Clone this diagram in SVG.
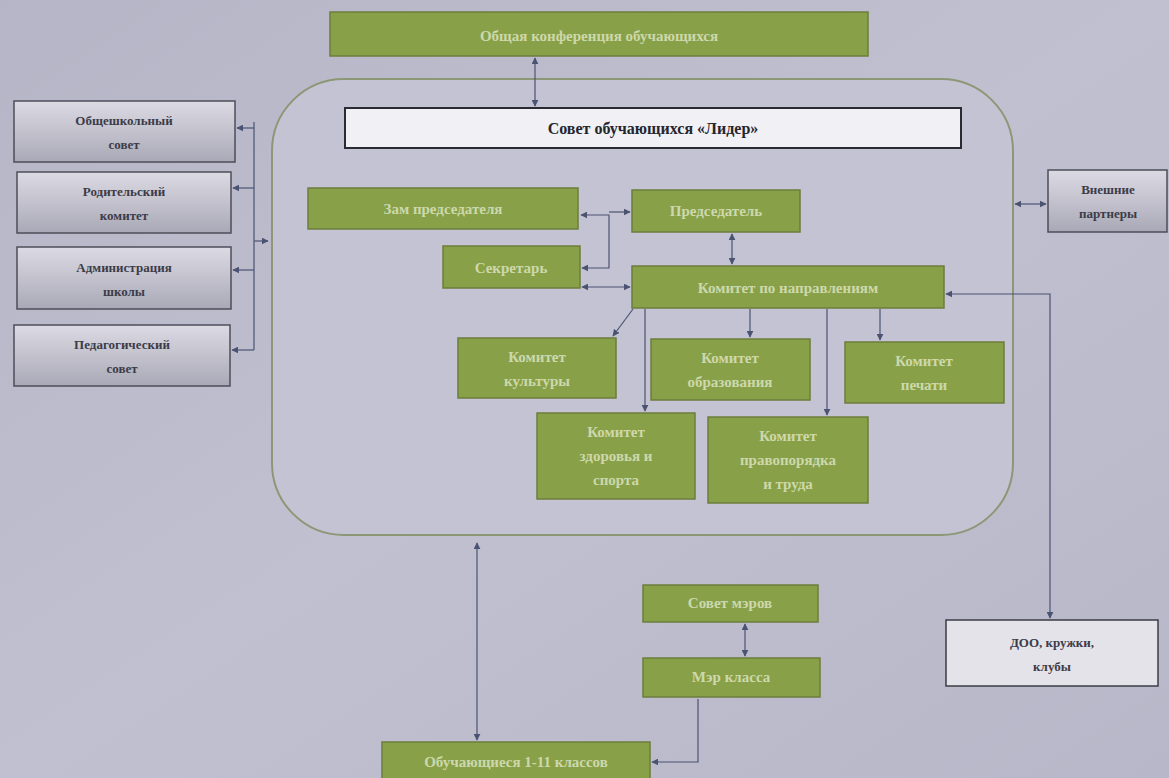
<svg xmlns="http://www.w3.org/2000/svg" width="1169" height="778" viewBox="0 0 1169 778">
<defs>
<linearGradient id="gray" x1="0" y1="0" x2="0" y2="1">
<stop offset="0" stop-color="#dcdbe4"/>
<stop offset="1" stop-color="#a9a8b6"/>
</linearGradient>
<linearGradient id="bg" x1="0" y1="0" x2="1" y2="1">
<stop offset="0" stop-color="#b6b5c7"/>
<stop offset="0.5" stop-color="#c1c0d0"/>
<stop offset="1" stop-color="#b8b7c9"/>
</linearGradient>
<marker id="ah" viewBox="0 0 10 10" refX="9" refY="5" markerWidth="7" markerHeight="7" orient="auto-start-reverse" markerUnits="userSpaceOnUse">
<path d="M0,0 L10,5 L0,10 z" fill="#4b5372"/>
</marker>
</defs>
<style>
.g{fill:#88a047;stroke:#6c7e3c;stroke-width:1.5}
.gt{font-family:"Liberation Serif",serif;font-size:15px;font-weight:bold;fill:#dfe6c6;text-anchor:middle;opacity:0.8}
.gr{fill:url(#gray);stroke:#4e4e5a;stroke-width:1.5}
.grt{font-family:"Liberation Serif",serif;font-size:13px;font-weight:bold;fill:#3c3c48;text-anchor:middle}
.c{fill:none;stroke:#4b5372;stroke-width:1.2}
.b{marker-start:url(#ah);marker-end:url(#ah)}
.e{marker-end:url(#ah)}
</style>
<rect width="1169" height="778" fill="url(#bg)"/>

<g id="container">
<rect x="272" y="79" width="741" height="456" rx="72" fill="#c4c3d3" stroke="#8c9776" stroke-width="2"/>
</g>

<g id="conf">
<rect class="g" x="330" y="12" width="538" height="44"/>
<text class="gt" x="599" y="41" font-size="17">Общая конференция обучающихся</text>
</g>

<g id="lider">
<rect x="345" y="108" width="616" height="40" fill="#f1f0f4" stroke="#2a2a33" stroke-width="2"/>
<text x="653" y="134" font-family="Liberation Serif, serif" font-size="16" font-weight="bold" fill="#25252e" text-anchor="middle">Совет обучающихся «Лидер»</text>
</g>

<g id="obsh">
<rect class="gr" x="14" y="101" width="221" height="61"/>
<text class="grt" x="124" y="125">Общешкольный</text>
<text class="grt" x="124" y="149">совет</text>
</g>
<g id="rod">
<rect class="gr" x="17" y="172" width="214" height="61"/>
<text class="grt" x="124" y="196">Родительский</text>
<text class="grt" x="124" y="220">комитет</text>
</g>
<g id="adm">
<rect class="gr" x="17" y="247" width="214" height="62"/>
<text class="grt" x="124" y="272">Администрация</text>
<text class="grt" x="124" y="296">школы</text>
</g>
<g id="ped">
<rect class="gr" x="14" y="325" width="216" height="61"/>
<text class="grt" x="122" y="349">Педагогический</text>
<text class="grt" x="122" y="373">совет</text>
</g>

<g id="ext">
<rect class="gr" x="1048" y="170" width="119" height="62"/>
<text class="grt" x="1108" y="194">Внешние</text>
<text class="grt" x="1108" y="218">партнеры</text>
</g>

<g id="doo">
<rect x="946" y="620" width="212" height="66" fill="#e4e3ea" stroke="#3c3c46" stroke-width="1.5"/>
<text class="grt" x="1052" y="647" font-size="14" fill="#2e2e38">ДОО, кружки,</text>
<text class="grt" x="1052" y="671" font-size="14" fill="#2e2e38">клубы</text>
</g>

<g id="zam">
<rect class="g" x="308" y="188" width="270" height="41"/>
<text class="gt" x="443" y="214">Зам председателя</text>
</g>
<g id="pred">
<rect class="g" x="632" y="190" width="168" height="42"/>
<text class="gt" x="716" y="216">Председатель</text>
</g>
<g id="sekr">
<rect class="g" x="443" y="246" width="137" height="42"/>
<text class="gt" x="511" y="273" font-size="16">Секретарь</text>
</g>
<g id="komnapr">
<rect class="g" x="632" y="266" width="312" height="42"/>
<text class="gt" x="788" y="293" font-size="16">Комитет  по направлениям</text>
</g>

<g id="kult">
<rect class="g" x="458" y="338" width="158" height="60"/>
<text class="gt" x="537" y="362" font-size="13">Комитет</text>
<text class="gt" x="537" y="386" font-size="13">культуры</text>
</g>
<g id="obr">
<rect class="g" x="651" y="339" width="159" height="61"/>
<text class="gt" x="730" y="363" font-size="13">Комитет</text>
<text class="gt" x="730" y="387" font-size="13">образования</text>
</g>
<g id="pech">
<rect class="g" x="845" y="342" width="159" height="61"/>
<text class="gt" x="924" y="366" font-size="13">Комитет</text>
<text class="gt" x="924" y="390" font-size="13">печати</text>
</g>
<g id="zdor">
<rect class="g" x="537" y="413" width="158" height="86"/>
<text class="gt" x="616" y="437" font-size="13">Комитет</text>
<text class="gt" x="616" y="461" font-size="13">здоровья и</text>
<text class="gt" x="616" y="485" font-size="13">спорта</text>
</g>
<g id="prav">
<rect class="g" x="708" y="417" width="160" height="86"/>
<text class="gt" x="788" y="441" font-size="13">Комитет</text>
<text class="gt" x="788" y="465" font-size="13">правопорядка</text>
<text class="gt" x="788" y="489" font-size="13">и труда</text>
</g>

<g id="sovmer">
<rect class="g" x="643" y="585" width="175" height="37"/>
<text class="gt" x="730" y="608" font-size="14">Совет мэров</text>
</g>
<g id="merkl">
<rect class="g" x="643" y="658" width="177" height="39"/>
<text class="gt" x="731" y="682" font-size="14">Мэр класса</text>
</g>
<g id="obuch">
<rect class="g" x="382" y="742" width="268" height="40"/>
<text class="gt" x="516" y="767" font-size="14">Обучающиеся 1-11 классов</text>
</g>

<g id="connectors">
<path class="c b" d="M535,58 V106"/>
<path class="c" d="M254,122 V350"/>
<path class="c e" d="M254,128 H237"/>
<path class="c e" d="M254,188 H233"/>
<path class="c e" d="M254,270 H233"/>
<path class="c e" d="M254,350 H232"/>
<path class="c e" d="M254,241 H268"/>
<path class="c b" d="M581,215 H609 V268 H582"/>
<path class="c e" d="M609,212 H630"/>
<path class="c b" d="M582,287 H630"/>
<path class="c b" d="M732,234 V264"/>
<path class="c e" d="M633,309 L613,336"/>
<path class="c e" d="M645,309 V411"/>
<path class="c e" d="M750,309 V337"/>
<path class="c e" d="M827,309 V415"/>
<path class="c e" d="M880,309 V340"/>
<path class="c b" d="M946,294 H1050 V618"/>
<path class="c b" d="M1015,204 H1046"/>
<path class="c b" d="M745,624 V656"/>
<path class="c e" d="M698,699 V762 H652"/>
<path class="c b" d="M477,740 V543"/>
</g>
</svg>
